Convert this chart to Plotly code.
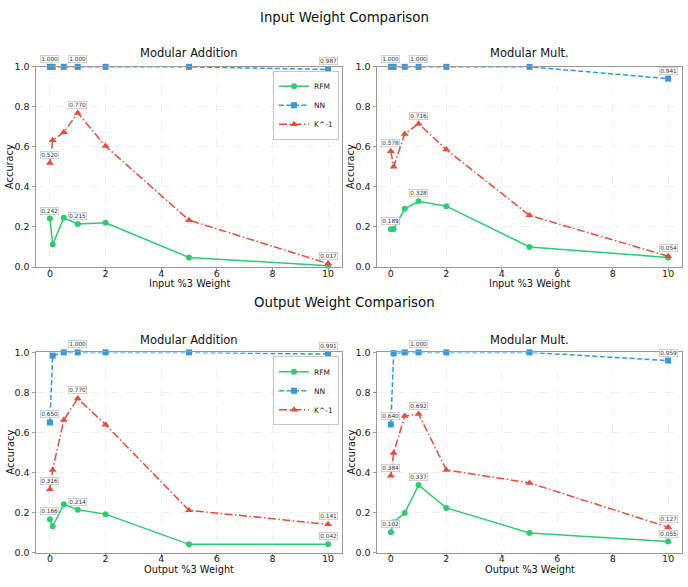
import plotly.graph_objects as go

# ---------------- data ----------------
x_vals = [0, 0.1, 0.5, 1, 2, 5, 10]
x_ticks = [0, 2, 4, 6, 8, 10]
y_ticks = [0.0, 0.2, 0.4, 0.6, 0.8, 1.0]
series_names = ["RFM", "NN", "K^-1"]
label_at_x = [0, 1, 10]

in_add_rfm = [0.242, 0.112, 0.246, 0.215, 0.221, 0.048, 0.006]
in_add_nn = [1.000, 1.000, 1.000, 1.000, 1.000, 1.000, 0.987]
in_add_k = [0.520, 0.633, 0.673, 0.770, 0.604, 0.234, 0.017]

in_mul_rfm = [0.189, 0.190, 0.291, 0.328, 0.304, 0.100, 0.048]
in_mul_nn = [1.000, 1.000, 1.000, 1.000, 1.000, 1.000, 0.941]
in_mul_k = [0.578, 0.501, 0.665, 0.716, 0.587, 0.258, 0.054]

out_add_rfm = [0.166, 0.131, 0.241, 0.214, 0.192, 0.041, 0.042]
out_add_nn = [0.650, 0.984, 1.000, 1.000, 1.000, 1.000, 0.991]
out_add_k = [0.316, 0.413, 0.662, 0.770, 0.639, 0.211, 0.141]

out_mul_rfm = [0.102, 0.152, 0.198, 0.337, 0.223, 0.098, 0.055]
out_mul_nn = [0.640, 0.996, 1.000, 1.000, 1.000, 1.000, 0.959]
out_mul_k = [0.384, 0.498, 0.682, 0.692, 0.413, 0.348, 0.127]

main_titles = ["Input Weight Comparison", "Output Weight Comparison"]
panel_titles = ["Modular Addition", "Modular Mult."]
x_titles = ["Input %3 Weight", "Output %3 Weight"]
y_title = "Accuracy"

# ---------------- styles ----------------
W, H = 688, 587
FONT = "DejaVu Sans"
colors = ["#2ecc71", "#3498db", "#e74c3c"]
dashes = ["solid", "5px,2.5px", "8px,2.5px,1.5px,2.5px"]
symbols = ["circle", "square", "triangle-up"]
msizes = [6, 6, 7]

def px_x(p):
    return p / W

def px_y(p):
    return (H - p) / H

# plot-area pixel boxes (left, right, top, bottom)
boxes = {
    (0, 0): (36, 342, 62, 266),
    (0, 1): (377, 682, 62, 266),
    (1, 0): (36, 342, 353, 557),
    (1, 1): (377, 682, 353, 557),
}
panel_data = {
    (0, 0): [in_add_rfm, in_add_nn, in_add_k],
    (0, 1): [in_mul_rfm, in_mul_nn, in_mul_k],
    (1, 0): [out_add_rfm, out_add_nn, out_add_k],
    (1, 1): [out_mul_rfm, out_mul_nn, out_mul_k],
}
main_title_y = [12, 302]
sub_title_y = [48, 340]
xtitle_y = [283, 574]

fig = go.Figure()
annotations = []
layout_axes = {}

idx = 0
for (r, c), (l, rt, t, b) in boxes.items():
    idx += 1
    xa = "x" if idx == 1 else f"x{idx}"
    ya = "y" if idx == 1 else f"y{idx}"
    xname = "xaxis" if idx == 1 else f"xaxis{idx}"
    yname = "yaxis" if idx == 1 else f"yaxis{idx}"
    axis_common = dict(
        showline=True, linecolor="#9a9a9a", linewidth=1, mirror=True,
        ticks="outside", ticklen=3.5, tickcolor="#9a9a9a", tickwidth=1,
        showgrid=True, gridcolor="#f0f0f0", griddash="dash", gridwidth=0.8,
        zeroline=False, tickfont=dict(size=9.5, color="#222", family=FONT),
    )
    layout_axes[xname] = dict(
        domain=[px_x(l), px_x(rt)], anchor=ya, range=[-0.5, 10.5],
        tickvals=x_ticks, ticktext=[str(v) for v in x_ticks],
        ticklabelstandoff=-6, **axis_common)
    layout_axes[yname] = dict(
        domain=[px_y(b), px_y(t)], anchor=xa, range=[0, 1.0],
        tickvals=y_ticks, ticktext=[f"{v:.1f}" for v in y_ticks], **axis_common)

    legend_id = None
    if c == 0:
        legend_id = "legend" if r == 0 else "legend2"
    series = panel_data[(r, c)]
    for s, ys in enumerate(series):
        fig.add_trace(go.Scatter(
            x=x_vals, y=ys, xaxis=xa, yaxis=ya, name=series_names[s],
            mode="lines+markers", cliponaxis=False,
            line=dict(color=colors[s], width=1.5, dash=dashes[s]),
            marker=dict(symbol=symbols[s], size=msizes[s], color=colors[s]),
            showlegend=legend_id is not None,
            legend=legend_id if legend_id else "legend",
        ))
    # value labels (a label fully covered by a later series' label is not drawn)
    for s, ys in enumerate(series):
        for xv in label_at_x:
            i = x_vals.index(xv)
            covered = any(abs(series[o][i] - ys[i]) < 0.02
                          for o in range(s + 1, len(series)))
            if covered:
                continue
            annotations.append(dict(
                x=xv, y=ys[i], xref=xa, yref=ya, text=f"{ys[i]:.3f}",
                showarrow=False, yshift=8, xanchor="center", yanchor="middle",
                font=dict(size=5.8, color="#333", family=FONT),
                bgcolor="rgba(255,255,255,0.95)", bordercolor="#b5b5b5",
                borderwidth=0.6, borderpad=0.6,
            ))
    # panel title
    annotations.append(dict(
        x=px_x((l + rt) / 2), y=px_y(sub_title_y[r]), xref="paper", yref="paper",
        text=panel_titles[c], showarrow=False, xanchor="center", yanchor="middle",
        font=dict(size=11.5, color="#111", family=FONT)))
    # x title
    annotations.append(dict(
        x=px_x((l + rt) / 2), y=px_y(xtitle_y[r]), xref="paper", yref="paper",
        text=x_titles[r], showarrow=False, xanchor="center", yanchor="middle",
        font=dict(size=9.8, color="#111", family=FONT)))
    # y title
    annotations.append(dict(
        x=px_x(l - 26), y=px_y((t + b) / 2), xref="paper", yref="paper",
        text=y_title, showarrow=False, xanchor="center", yanchor="middle",
        textangle=-90, font=dict(size=9.8, color="#111", family=FONT)))

for r in range(2):
    annotations.append(dict(
        x=0.5, y=px_y(main_title_y[r]), xref="paper", yref="paper",
        text=main_titles[r], showarrow=False, xanchor="center", yanchor="middle",
        font=dict(size=13.3, color="#111", family=FONT)))

legend_style = dict(
    xanchor="right", yanchor="top", bgcolor="rgba(255,255,255,0.95)",
    bordercolor="#c8c8c8", borderwidth=1, font=dict(size=7.5, color="#222", family=FONT),
    itemwidth=30, tracegroupgap=0, itemsizing="trace",
)
fig.update_layout(
    width=W, height=H, autosize=False,
    margin=dict(l=0, r=0, t=0, b=0),
    paper_bgcolor="white", plot_bgcolor="white",
    font=dict(family=FONT),
    annotations=annotations,
    legend=dict(x=px_x(339), y=px_y(66), **legend_style),
    legend2=dict(x=px_x(339), y=px_y(357), **legend_style),
    **layout_axes,
)

fig.write_html("out.html")
